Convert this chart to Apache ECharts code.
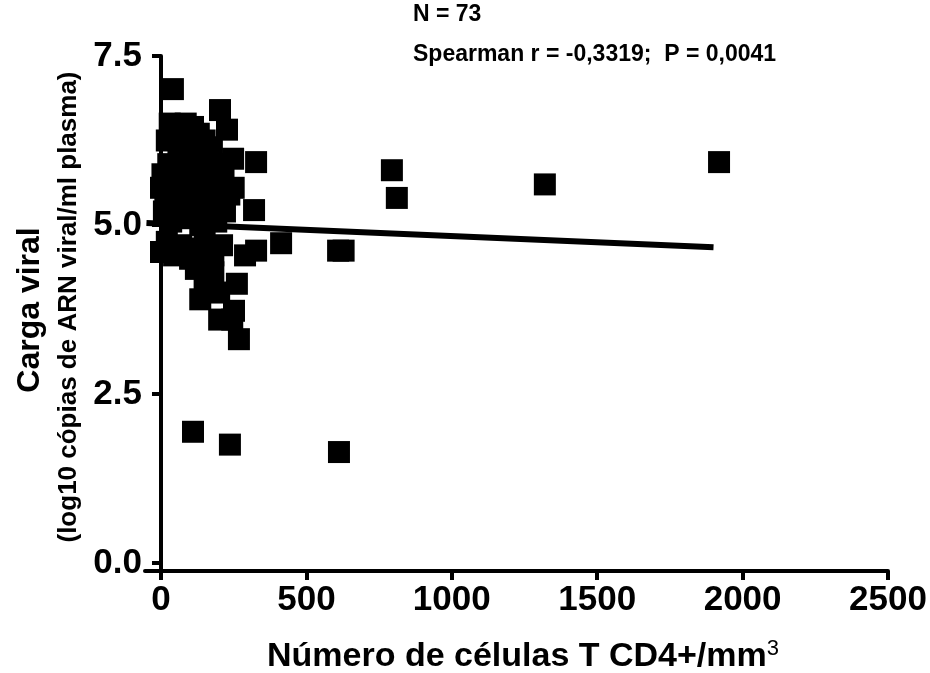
<!DOCTYPE html>
<html>
<head>
<meta charset="utf-8">
<script src="https://cdn.jsdelivr.net/npm/echarts@6/dist/echarts.min.js"></script>
<style>
  html, body { margin: 0; padding: 0; background: #fff; }
  #chart { width: 930px; height: 673px; }
</style>
</head>
<body>
<div id="chart"></div>
<script>
var myChart = echarts.init(document.getElementById('chart'));

// CD4 count (cells/mm3) and log10 viral load for each patient
var cd4 = [
  1919, 1320, 794, 811, 609, 628, 413, 110, 237, 612,
  41, 203, 227, 30, 55, 85, 110, 130, 20, 60, 100, 150, 175,
  140, 165, 248, 327,
  5, 25, 45, 70, 95, 120, 150, 190, 215, 250,
  0, 15, 40, 65, 90, 115, 140, 175, 205, 235,
  10, 35, 60, 85, 110, 135, 160, 190, 220, 320,
  0, 20, 45, 70, 100, 125, 150, 180, 210, 289, 327,
  120, 150, 180, 200, 261, 135,
  200, 245, 251, 268
];
var viral = [
  5.93, 5.60, 5.81, 5.40, 4.62, 4.62, 4.73, 1.94, 1.75, 1.64,
  7.01, 6.70, 6.41, 6.50, 6.45, 6.50, 6.45, 6.35, 6.25, 6.20, 6.20, 6.25, 6.15,
  6.00, 5.95, 5.98, 5.93,
  5.75, 5.90, 5.80, 5.95, 5.85, 5.75, 5.80, 5.90, 5.70, 5.55,
  5.55, 5.45, 5.60, 5.50, 5.40, 5.55, 5.45, 5.50, 5.40, 5.45,
  5.20, 5.05, 5.25, 5.10, 5.20, 5.00, 5.15, 5.05, 5.20, 5.22,
  4.60, 4.75, 4.55, 4.70, 4.50, 4.65, 4.80, 4.55, 4.70, 4.55, 4.62,
  4.35, 4.10, 4.30, 4.00, 4.13, 3.90,
  3.60, 3.60, 3.73, 3.31
];

// regression line end points
var fitX = [-50, 1900];
var fitY = [5.03, 4.67];

var xTicks = [0, 500, 1000, 1500, 2000, 2500];
var yTicks = [0, 2.5, 5, 7.5];

var points = cd4.map(function (x, i) { return [x, viral[i]]; });
var fitLine = fitX.map(function (x, i) { return [x, fitY[i]]; });

var font = 'Liberation Sans, Arial, sans-serif';

var option = {
  backgroundColor: '#fff',
  animation: false,
  grid: { left: 145, right: 42, top: 56, bottom: 102 },
  xAxis: {
    type: 'value',
    min: -55,
    max: 2500,
    splitLine: { show: false },
    axisLine: { onZero: false, lineStyle: { color: '#000', width: 4 } },
    axisTick: { customValues: xTicks, length: 9, lineStyle: { color: '#000', width: 4 } },
    axisLabel: {
      customValues: xTicks,
      margin: 12,
      color: '#000',
      fontFamily: font,
      fontWeight: 'bold',
      fontSize: 35,
      formatter: function (v) { return String(v); }
    }
  },
  yAxis: {
    type: 'value',
    min: -0.12,
    max: 7.5,
    splitLine: { show: false },
    axisLine: { onZero: true, lineStyle: { color: '#000', width: 4 } },
    axisTick: { customValues: yTicks, length: 9, lineStyle: { color: '#000', width: 4 } },
    axisLabel: {
      customValues: yTicks,
      margin: 3,
      color: '#000',
      fontFamily: font,
      fontWeight: 'bold',
      fontSize: 35,
      formatter: function (v) { return v.toFixed(1); }
    }
  },
  series: [
    {
      type: 'scatter',
      data: points,
      symbol: 'rect',
      symbolSize: 22,
      itemStyle: { color: '#000', opacity: 1 },
      z: 3
    },
    {
      type: 'line',
      data: fitLine,
      showSymbol: false,
      clip: false,
      lineStyle: { color: '#000', width: 6 },
      z: 4
    }
  ],
  graphic: [
    {
      type: 'text', left: 413, top: 3,
      style: { text: 'N = 73', fill: '#000', font: 'bold 23px ' + font }
    },
    {
      type: 'text', left: 413, top: 43,
      style: { text: 'Spearman r = -0,3319;  P = 0,0041', fill: '#000', font: 'bold 23px ' + font }
    },
    {
      type: 'text', x: 30, y: 310, rotation: Math.PI / 2,
      style: {
        text: 'Carga viral', fill: '#000', font: 'bold 32px ' + font,
        align: 'center', verticalAlign: 'middle'
      }
    },
    {
      type: 'text', x: 69, y: 307, rotation: Math.PI / 2,
      style: {
        text: '(log10 cópias de ARN viral/ml plasma)', fill: '#000', font: 'bold 26px ' + font,
        align: 'center', verticalAlign: 'middle'
      }
    },
    {
      type: 'text', x: 523, y: 657,
      style: {
        text: 'Número de células T CD4+/mm{sup|3}',
        fill: '#000', font: 'bold 34px ' + font,
        align: 'center', verticalAlign: 'middle',
        rich: {
          sup: { font: '22px ' + font, fill: '#000', verticalAlign: 'top', padding: [0, 0, 16, 0] }
        }
      }
    }
  ]
};

myChart.setOption(option);
</script>
</body>
</html>
